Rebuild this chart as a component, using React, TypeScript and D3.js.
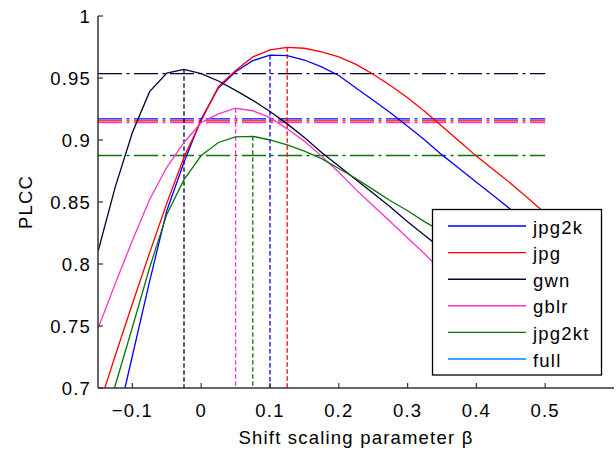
import React, { useEffect, useRef } from "react";
import * as d3 from "d3";

// shift scaling parameter beta (x values)
const beta = [-0.15, -0.125, -0.1, -0.075, -0.05, -0.025, 0, 0.025, 0.05, 0.075, 0.1, 0.125, 0.15, 0.175,
  0.2, 0.225, 0.25, 0.275, 0.3, 0.325, 0.35, 0.375, 0.4, 0.425, 0.45, 0.475, 0.5];

// PLCC per distortion type
const jpg2k = [0.605, 0.666, 0.726, 0.786, 0.843, 0.882, 0.917, 0.942, 0.955, 0.964, 0.9685, 0.968, 0.9645, 0.959,
  0.952, 0.942, 0.932, 0.922, 0.911, 0.9, 0.888, 0.877, 0.866, 0.855, 0.844, 0.834, 0.823];
const jpg = [0.683, 0.726, 0.768, 0.809, 0.849, 0.886, 0.9155, 0.943, 0.956, 0.967, 0.9726, 0.9747, 0.974, 0.971,
  0.967, 0.961, 0.953, 0.944, 0.934, 0.923, 0.911, 0.899, 0.887, 0.876, 0.865, 0.853, 0.841];
const gwn = [0.81, 0.862, 0.906, 0.939, 0.954, 0.957, 0.9535, 0.9476, 0.94, 0.932, 0.923, 0.913, 0.902, 0.89,
  0.879, 0.868, 0.857, 0.846, 0.834, 0.823, 0.812, 0.8, 0.789, 0.777, 0.766, 0.755, 0.744];
const gblr = [0.748, 0.784, 0.819, 0.852, 0.878, 0.898, 0.914, 0.921, 0.9256, 0.9236, 0.918, 0.909, 0.899, 0.887,
  0.874, 0.86, 0.847, 0.834, 0.821, 0.808, 0.794, 0.781, 0.768, 0.755, 0.742, 0.729, 0.716];
const jpg2kt = [0.655, 0.702, 0.749, 0.797, 0.84, 0.868, 0.8875, 0.898, 0.9025, 0.903, 0.9, 0.896, 0.891, 0.885,
  0.877, 0.869, 0.86, 0.851, 0.843, 0.834, 0.826, 0.817, 0.809, 0.8, 0.792, 0.784, 0.776];

const seriesNames = ["jpg2k", "jpg", "gwn", "gblr", "jpg2kt"];
const legendNames = ["jpg2k", "jpg", "gwn", "gblr", "jpg2kt", "full"];

const xTicks = [-0.1, 0, 0.1, 0.2, 0.3, 0.4, 0.5];
const xTickLabels = ["\u22120.1", "0", "0.1", "0.2", "0.3", "0.4", "0.5"];
const yTicks = [0.7, 0.75, 0.8, 0.85, 0.9, 0.95, 1];
const yTickLabels = ["0.7", "0.75", "0.8", "0.85", "0.9", "0.95", "1"];

const colors: Record<string, string> = {
  jpg2k: "#0000ff",
  jpg: "#ff0000",
  gwn: "#000033",
  gblr: "#ff33cc",
  jpg2kt: "#0a750a",
  full: "#0080ff",
};

export default function App() {
  const ref = useRef<SVGSVGElement>(null);

  useEffect(() => {
    const width = 616;
    const height = 454;
    const margin = { top: 16, bottom: 66, left: 98, right: 2 };
    const font = "'Liberation Sans', Arial, Helvetica, sans-serif";

    const values: Record<string, number[]> = { jpg2k, jpg, gwn, gblr, jpg2kt };

    const svg = d3.select(ref.current);
    svg.selectAll("*").remove();

    const x = d3.scaleLinear().domain([-0.15, 0.6]).range([margin.left, width - margin.right]);
    const y = d3.scaleLinear().domain([0.7, 1]).range([height - margin.bottom, margin.top]);

    svg.append("rect").attr("width", width).attr("height", height).attr("fill", "#fff");

    svg.append("clipPath").attr("id", "plot")
      .append("rect")
      .attr("x", margin.left).attr("y", margin.top)
      .attr("width", width - margin.left - margin.right)
      .attr("height", height - margin.top - margin.bottom);

    const plot = svg.append("g").attr("clip-path", "url(#plot)");

    const line = d3.line<number>()
      .x((_, i) => x(beta[i]))
      .y((d) => y(d));

    const zeroIdx = beta.indexOf(0);

    // horizontal dash-dot reference at beta = 0
    seriesNames.slice().reverse().forEach((name) => {
      const v = values[name][zeroIdx];
      plot.append("line")
        .attr("x1", x(beta[0])).attr("x2", x(beta[beta.length - 1]))
        .attr("y1", y(v)).attr("y2", y(v))
        .attr("stroke", colors[name])
        .attr("stroke-width", 1.3)
        .attr("stroke-dasharray", "24,4.5,3,4.5");
    });

    // vertical dashed line at the maximum
    seriesNames.forEach((name) => {
      const idx = d3.maxIndex(values[name]);
      plot.append("line")
        .attr("x1", x(beta[idx])).attr("x2", x(beta[idx]))
        .attr("y1", y(values[name][idx])).attr("y2", y(0.7))
        .attr("stroke", colors[name])
        .attr("stroke-width", 1.3)
        .attr("stroke-dasharray", "4.5,2.5");
    });

    // curves
    seriesNames.forEach((name) => {
      plot.append("path")
        .attr("d", line(values[name]))
        .attr("fill", "none")
        .attr("stroke", colors[name])
        .attr("stroke-width", 1.3);
    });

    // axes (left and bottom only, ticks pointing inward)
    const axisCol = "#333";
    svg.append("line")
      .attr("x1", x.range()[0]).attr("x2", x.range()[1])
      .attr("y1", y(0.7)).attr("y2", y(0.7))
      .attr("stroke", axisCol).attr("stroke-width", 1.5);
    svg.append("line")
      .attr("x1", x(-0.15)).attr("x2", x(-0.15))
      .attr("y1", y(0.7)).attr("y2", y(1))
      .attr("stroke", axisCol).attr("stroke-width", 1.5);

    xTicks.forEach((t, i) => {
      svg.append("line")
        .attr("x1", x(t)).attr("x2", x(t))
        .attr("y1", y(0.7)).attr("y2", y(0.7) - 5)
        .attr("stroke", axisCol).attr("stroke-width", 1.2);
      svg.append("text")
        .attr("x", x(t)).attr("y", y(0.7) + 29)
        .attr("text-anchor", "middle")
        .attr("font-family", font).attr("font-size", 18.5)
        .attr("letter-spacing", 1.2)
        .text(xTickLabels[i]);
    });

    yTicks.forEach((t, i) => {
      svg.append("line")
        .attr("x1", x(-0.15)).attr("x2", x(-0.15) + 5)
        .attr("y1", y(t)).attr("y2", y(t))
        .attr("stroke", axisCol).attr("stroke-width", 1.2);
      svg.append("text")
        .attr("x", x(-0.15) - 7).attr("y", y(t) + 6.7)
        .attr("text-anchor", "end")
        .attr("font-family", font).attr("font-size", 18.5)
        .attr("letter-spacing", 1.2)
        .text(yTickLabels[i]);
    });

    svg.append("text")
      .attr("x", (x.range()[0] + x.range()[1]) / 2).attr("y", 444)
      .attr("text-anchor", "middle")
      .attr("font-family", font).attr("font-size", 18.5)
      .attr("letter-spacing", 1.2)
      .text("Shift scaling parameter \u03b2");

    svg.append("text")
      .attr("transform", `translate(32,${(y(0.7) + y(1)) / 2}) rotate(-90)`)
      .attr("text-anchor", "middle")
      .attr("font-family", font).attr("font-size", 18.5)
      .attr("letter-spacing", 1.2)
      .text("PLCC");

    // legend
    const legend = svg.append("g");
    legend.append("rect")
      .attr("x", 432.5).attr("y", 209.5)
      .attr("width", 169).attr("height", 165.5)
      .attr("fill", "#fff").attr("stroke", "#000").attr("stroke-width", 1.3);

    legendNames.forEach((name, i) => {
      const ly = 226 + i * 26.6;
      legend.append("line")
        .attr("x1", 448).attr("x2", 526)
        .attr("y1", ly).attr("y2", ly)
        .attr("stroke", colors[name]).attr("stroke-width", 1.4);
      legend.append("text")
        .attr("x", 533).attr("y", ly + 7.5)
        .attr("font-family", font).attr("font-size", 18.5)
        .attr("letter-spacing", 1.2)
        .text(name);
    });
  }, []);

  return (
    <svg ref={ref} width={616} height={454}
      style={{ position: "absolute", left: 0, top: 0, display: "block" }} />
  );
}
